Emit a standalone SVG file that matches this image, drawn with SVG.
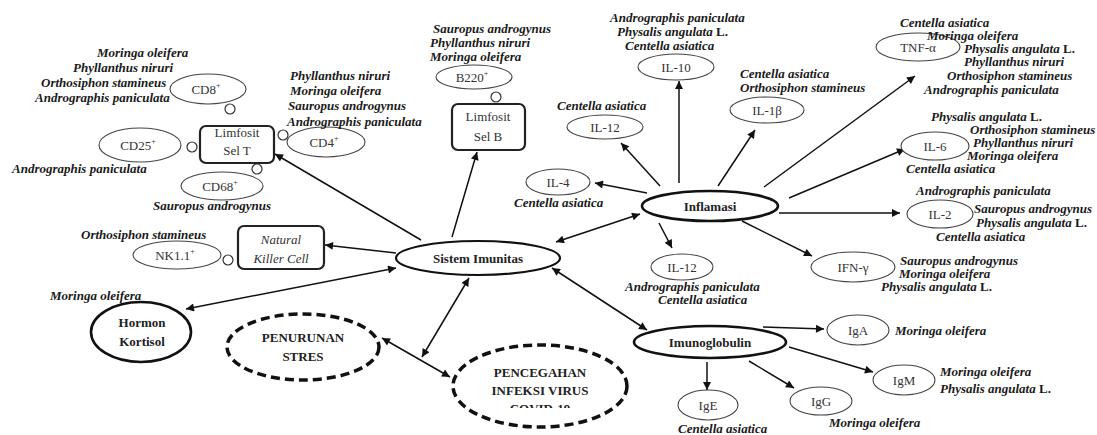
<svg xmlns="http://www.w3.org/2000/svg" width="1097" height="435" viewBox="0 0 1097 435">
<style>
.lb{font-family:"Liberation Serif","Times New Roman",serif;font-size:13px;font-weight:bold;font-style:italic;fill:#1a1a1a}
.lb .n{font-style:normal}
.t{font-family:"Liberation Serif","Times New Roman",serif;font-size:13px;fill:#333;text-anchor:middle}
.tb{font-family:"Liberation Serif","Times New Roman",serif;font-size:13px;font-weight:bold;fill:#222;text-anchor:middle}
.ti{font-family:"Liberation Serif","Times New Roman",serif;font-size:13px;font-style:italic;fill:#333;text-anchor:middle}
.e{fill:#fff;stroke:#444;stroke-width:1.1}
.c{fill:#fff;stroke:#333;stroke-width:1.2}
.box{fill:#fff;stroke:#222;stroke-width:2.2}
.major{fill:#fff;stroke:#111;stroke-width:2.6}
.dash{fill:#fff;stroke:#111;stroke-width:3.5;stroke-dasharray:9 5}
.ln{stroke:#111;stroke-width:1.5;fill:none}
.one{marker-end:url(#ah)}
.two{marker-start:url(#ah);marker-end:url(#ah)}
</style>
<defs>
<marker id="ah" viewBox="0 0 10 10" refX="10" refY="5" markerWidth="10" markerHeight="8" markerUnits="userSpaceOnUse" orient="auto-start-reverse">
<path d="M0,0 L10,5 L0,10 z" fill="#111"/>
</marker>
<clipPath id="cvclip"><rect x="440" y="340" width="200" height="68"/></clipPath>
</defs>

<g id="connectors">
<line class="ln one" x1="421" y1="240" x2="275" y2="154"/>
<line class="ln one" x1="452" y1="237" x2="477" y2="152"/>
<line class="ln one" x1="396" y1="253" x2="325" y2="245"/>
<line class="ln two" x1="396" y1="268" x2="186" y2="309"/>
<line class="ln two" x1="556" y1="242" x2="640" y2="214"/>
<line class="ln two" x1="552" y1="268" x2="647" y2="330"/>
<line class="ln two" x1="469" y1="278" x2="422" y2="357"/>
<line class="ln two" x1="382" y1="338" x2="450" y2="377"/>
<line class="ln one" x1="647" y1="193" x2="595" y2="183"/>
<line class="ln one" x1="660" y1="186" x2="621" y2="143"/>
<line class="ln one" x1="679" y1="183" x2="679" y2="81"/>
<line class="ln one" x1="718" y1="186" x2="755" y2="130"/>
<line class="ln one" x1="764" y1="187" x2="915" y2="76"/>
<line class="ln one" x1="789" y1="198" x2="905" y2="149"/>
<line class="ln one" x1="779" y1="213" x2="900" y2="213"/>
<line class="ln one" x1="742" y1="221" x2="812" y2="256"/>
<line class="ln one" x1="659" y1="223" x2="672" y2="248"/>
<line class="ln one" x1="763" y1="327" x2="824" y2="329"/>
<line class="ln one" x1="789" y1="347" x2="873" y2="372"/>
<line class="ln one" x1="749" y1="361" x2="794" y2="388"/>
<line class="ln one" x1="707" y1="362" x2="707" y2="390"/>
</g>

<g id="limfosit-t">
<rect class="box" x="200" y="126" width="74" height="37" rx="6"/>
<text class="t" x="237" y="137">Limfosit</text>
<text class="t" x="237" y="155">Sel T</text>
</g>
<g id="cd8">
<ellipse class="e" cx="208" cy="89" rx="38" ry="15"/>
<text class="t" x="206" y="94">CD8<tspan font-size="8" dy="-6">+</tspan></text>
<circle class="c" cx="230" cy="109" r="5"/>
<text class="lb" x="97" y="57">Moringa oleifera</text>
<text class="lb" x="73" y="72">Phyllanthus niruri</text>
<text class="lb" x="41" y="87">Orthosiphon stamineus</text>
<text class="lb" x="35" y="102">Andrographis paniculata</text>
</g>
<g id="cd4">
<ellipse class="e" cx="326" cy="142" rx="39" ry="15"/>
<text class="t" x="324" y="147">CD4<tspan font-size="8" dy="-6">+</tspan></text>
<circle class="c" cx="283" cy="135" r="5"/>
<text class="lb" x="290" y="80">Phyllanthus niruri</text>
<text class="lb" x="290" y="95">Moringa oleifera</text>
<text class="lb" x="288" y="110">Sauropus androgynus</text>
<text class="lb" x="287" y="126">Andrographis paniculata</text>
</g>
<g id="cd25">
<ellipse class="e" cx="140" cy="145" rx="41" ry="17"/>
<text class="t" x="138" y="150">CD25<tspan font-size="8" dy="-6">+</tspan></text>
<circle class="c" cx="192" cy="147" r="5"/>
<text class="lb" x="12" y="173">Andrographis paniculata</text>
</g>
<g id="cd68">
<ellipse class="e" cx="222" cy="186" rx="41" ry="14"/>
<text class="t" x="220" y="191">CD68<tspan font-size="8" dy="-6">+</tspan></text>
<circle class="c" cx="257" cy="169" r="5"/>
<text class="lb" x="153" y="210">Sauropus androgynus</text>
</g>

<g id="limfosit-b">
<rect class="box" x="452" y="104" width="73" height="46" rx="6"/>
<text class="t" x="488" y="121">Limfosit</text>
<text class="t" x="488" y="141">Sel B</text>
</g>
<g id="b220">
<ellipse class="e" cx="474" cy="77" rx="38" ry="12"/>
<text class="t" x="472" y="82">B220<tspan font-size="8" dy="-6">+</tspan></text>
<circle class="c" cx="496" cy="97" r="5"/>
<text class="lb" x="433" y="33">Sauropus androgynus</text>
<text class="lb" x="430" y="47">Phyllanthus niruri</text>
<text class="lb" x="430" y="61">Moringa oleifera</text>
</g>

<g id="nk-cell">
<rect class="box" x="238" y="226" width="86" height="43" rx="6"/>
<text class="ti" x="281" y="244">Natural</text>
<text class="ti" x="281" y="263">Killer Cell</text>
</g>
<g id="nk11">
<ellipse class="e" cx="177" cy="255" rx="44" ry="14"/>
<text class="t" x="175" y="260">NK1.1<tspan font-size="8" dy="-6">+</tspan></text>
<circle class="c" cx="228" cy="260" r="5"/>
<text class="lb" x="81" y="239">Orthosiphon stamineus</text>
</g>

<g id="hormon">
<ellipse class="major" cx="141" cy="332" rx="50" ry="30"/>
<text class="tb" x="142" y="327">Hormon</text>
<text class="tb" x="142" y="346">Kortisol</text>
<text class="lb" x="50" y="300">Moringa oleifera</text>
</g>

<g id="sistem-imunitas">
<ellipse fill="#fff" stroke="#111" stroke-width="2.2" cx="478" cy="258" rx="82" ry="17"/>
<text class="tb" x="478" y="263">Sistem Imunitas</text>
</g>

<g id="penurunan">
<ellipse class="dash" cx="303" cy="347" rx="76" ry="33"/>
<text class="tb" x="303" y="342">PENURUNAN</text>
<text class="tb" x="303" y="361">STRES</text>
</g>
<g id="pencegahan">
<ellipse class="dash" cx="540" cy="386" rx="87" ry="41"/>
<text class="tb" x="540" y="377">PENCEGAHAN</text>
<text class="tb" x="540" y="395">INFEKSI VIRUS</text>
<text class="tb" x="540" y="413" clip-path="url(#cvclip)">COVID-19</text>
</g>

<g id="inflamasi">
<ellipse class="major" cx="710" cy="206" rx="68" ry="15"/>
<text class="tb" x="710" y="211">Inflamasi</text>
</g>
<g id="il4">
<ellipse class="e" cx="558" cy="182" rx="32" ry="13"/>
<text class="t" x="558" y="187">IL-4</text>
<text class="lb" x="514" y="207">Centella asiatica</text>
</g>
<g id="il12a">
<ellipse class="e" cx="605" cy="127" rx="38" ry="12"/>
<text class="t" x="605" y="132">IL-12</text>
<text class="lb" x="557" y="110">Centella asiatica</text>
</g>
<g id="il10">
<ellipse class="e" cx="676" cy="67" rx="38" ry="13"/>
<text class="t" x="676" y="72">IL-10</text>
<text class="lb" x="610" y="22">Andrographis paniculata</text>
<text class="lb" x="617" y="36">Physalis angulata <tspan class="n">L.</tspan></text>
<text class="lb" x="625" y="50">Centella asiatica</text>
</g>
<g id="il1b">
<ellipse class="e" cx="767" cy="110" rx="37" ry="13"/>
<text class="t" x="767" y="115">IL-1β</text>
<text class="lb" x="740" y="78">Centella asiatica</text>
<text class="lb" x="740" y="92">Orthosiphon stamineus</text>
</g>
<g id="tnf">
<ellipse class="e" cx="918" cy="47" rx="42" ry="14"/>
<text class="t" x="918" y="52">TNF-α</text>
<text class="lb" x="900" y="27">Centella asiatica</text>
<text class="lb" x="927" y="40">Moringa oleifera</text>
<text class="lb" x="964" y="53">Physalis angulata <tspan class="n">L.</tspan></text>
<text class="lb" x="964" y="66">Phyllanthus niruri</text>
<text class="lb" x="947" y="80">Orthosiphon stamineus</text>
<text class="lb" x="924" y="94">Andrographis paniculata</text>
</g>
<g id="il6">
<ellipse class="e" cx="935" cy="146" rx="34" ry="14"/>
<text class="t" x="935" y="151">IL-6</text>
<text class="lb" x="931" y="121">Physalis angulata <tspan class="n">L.</tspan></text>
<text class="lb" x="970" y="134">Orthosiphon stamineus</text>
<text class="lb" x="973" y="147">Phyllanthus niruri</text>
<text class="lb" x="967" y="160">Moringa oleifera</text>
<text class="lb" x="906" y="173">Centella asiatica</text>
</g>
<g id="il2">
<ellipse class="e" cx="940" cy="214" rx="33" ry="14"/>
<text class="t" x="940" y="219">IL-2</text>
<text class="lb" x="916" y="195">Andrographis paniculata</text>
<text class="lb" x="974" y="213">Sauropus androgynus</text>
<text class="lb" x="976" y="227">Physalis angulata <tspan class="n">L.</tspan></text>
<text class="lb" x="936" y="241">Centella asiatica</text>
</g>
<g id="ifn">
<ellipse class="e" cx="853" cy="267" rx="42" ry="15"/>
<text class="t" x="853" y="272">IFN-γ</text>
<text class="lb" x="900" y="265">Sauropus androgynus</text>
<text class="lb" x="899" y="278">Moringa oleifera</text>
<text class="lb" x="881" y="291">Physalis angulata <tspan class="n">L.</tspan></text>
</g>
<g id="il12b">
<ellipse class="e" cx="682" cy="267" rx="31" ry="13"/>
<text class="t" x="682" y="272">IL-12</text>
<text class="lb" x="625" y="291">Andrographis paniculata</text>
<text class="lb" x="658" y="304">Centella asiatica</text>
</g>

<g id="imunoglobulin">
<ellipse class="major" cx="710" cy="342" rx="76" ry="16"/>
<text class="tb" x="710" y="347">Imunoglobulin</text>
</g>
<g id="iga">
<ellipse class="e" cx="858" cy="330" rx="31" ry="15"/>
<text class="t" x="858" y="335">IgA</text>
<text class="lb" x="895" y="335">Moringa oleifera</text>
</g>
<g id="igm">
<ellipse class="e" cx="904" cy="380" rx="31" ry="15"/>
<text class="t" x="904" y="385">IgM</text>
<text class="lb" x="940" y="376">Moringa oleifera</text>
<text class="lb" x="940" y="393">Physalis angulata <tspan class="n">L.</tspan></text>
</g>
<g id="igg">
<ellipse class="e" cx="821" cy="401" rx="31" ry="14"/>
<text class="t" x="821" y="406">IgG</text>
<text class="lb" x="829" y="427">Moringa oleifera</text>
</g>
<g id="ige">
<ellipse class="e" cx="708" cy="405" rx="30" ry="15"/>
<text class="t" x="708" y="410">IgE</text>
<text class="lb" x="678" y="433">Centella asiatica</text>
</g>
</svg>
